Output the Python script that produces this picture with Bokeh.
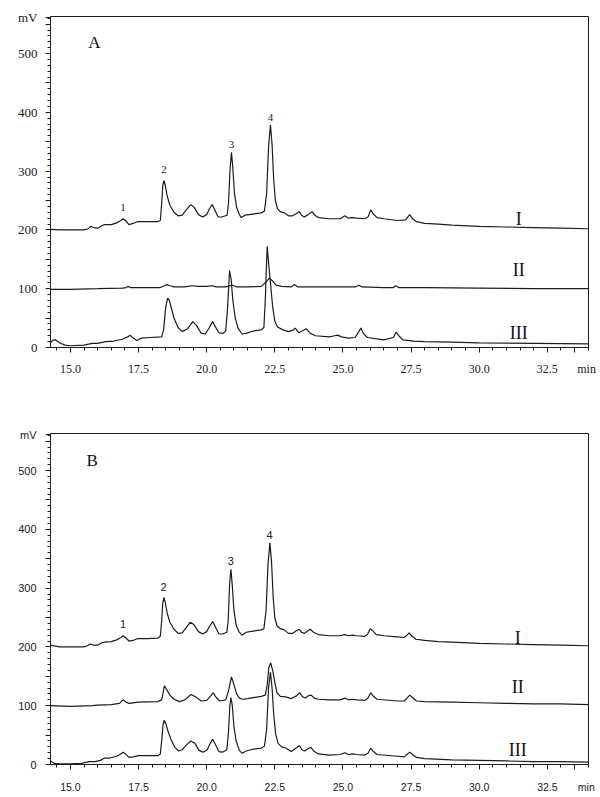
from bokeh.plotting import figure
from bokeh.models import Range1d, FixedTicker, Label
from bokeh.layouts import column
from bokeh.core.properties import value
from bokeh.embed import file_html
from bokeh.resources import INLINE

# ---------------- data (time min, signal mV) ----------------
a_trace1 = [(14.27,201),(14.6,200),(15.0,200),(15.5,200),(15.65,202),(15.75,206),(15.85,204),(16.0,203),
            (16.15,207),(16.25,209),(16.5,209),(16.7,212),(16.85,216),(16.93,219),(17.02,216),(17.15,209),
            (17.3,211),(17.45,214),(17.8,214),(18.2,214),(18.3,216),(18.35,245),(18.39,275),(18.43,284),
            (18.48,276),(18.55,258),(18.65,242),(18.8,230),(18.95,224),(19.1,225),(19.25,234),(19.42,243),
            (19.55,238),(19.7,226),(19.85,222),(20.0,226),(20.1,236),(20.2,243),(20.3,234),(20.42,222),
            (20.55,222),(20.75,225),(20.8,245),(20.86,305),(20.91,332),(20.96,305),(21.02,262),(21.1,238),
            (21.2,226),(21.27,221),(21.4,225),(21.7,227),(22.0,229),(22.12,232),(22.2,262),(22.27,340),
            (22.34,379),(22.4,345),(22.46,285),(22.52,250),(22.6,236),(22.7,231),(22.85,229),(23.0,224),
            (23.15,224),(23.3,228),(23.39,231),(23.48,225),(23.58,222),(23.72,226),(23.87,231),(23.97,225),
            (24.1,221),(24.5,219),(24.9,219),(25.07,224),(25.2,220),(25.35,221),(25.5,220),(25.8,219),
            (25.92,222),(26.02,234),(26.1,228),(26.25,221),(26.5,219),(27.0,216),(27.3,217),(27.45,226),
            (27.55,219),(27.7,214),(28.0,211),(28.5,210),(29.0,208),(30.0,206),(31.0,205),(32.0,204),
            (33.0,203),(34.0,202)]

a_trace2 = [(14.27,99),(15.0,99),(16.0,100),(16.9,101),(17.05,102),(17.12,104),(17.2,102),(17.5,102),
            (18.3,102),(18.45,105),(18.55,107),(18.65,105),(18.8,103),(19.2,103),(19.45,105),(19.7,104),
            (20.0,104),(20.2,105),(20.35,103),(20.7,103),(20.85,105),(20.95,106),(21.1,103),(21.5,103),
            (22.0,104),(22.15,110),(22.3,118),(22.42,113),(22.55,106),(22.75,104),(23.1,103),(23.22,107),
            (23.35,103),(24.0,103),(24.8,103),(25.45,103),(25.58,106),(25.7,103),(26.5,102),(26.85,102),
            (26.93,105),(27.05,102),(28.0,102),(30.0,101),(32.0,100),(34.0,100)]

a_trace3 = [(14.27,8),(14.35,12),(14.45,13),(14.6,8),(14.8,4),(15.0,3),(15.5,4),(15.8,7),(16.0,7),
            (16.3,10),(16.6,11),(16.9,14),(17.1,18),(17.19,21),(17.3,16),(17.45,12),(17.6,16),(17.9,17),
            (18.35,18),(18.42,30),(18.5,70),(18.57,84),(18.63,80),(18.7,68),(18.8,50),(18.95,34),(19.1,27),
            (19.3,32),(19.49,44),(19.62,38),(19.8,24),(19.95,23),(20.1,34),(20.22,44),(20.32,35),(20.45,25),
            (20.6,24),(20.7,28),(20.77,70),(20.84,131),(20.9,115),(20.96,80),(21.05,50),(21.15,33),(21.3,23),
            (21.45,24),(21.7,28),(22.0,30),(22.1,34),(22.15,80),(22.22,172),(22.28,140),(22.34,110),
            (22.42,70),(22.5,45),(22.6,35),(22.8,30),(23.0,27),(23.15,29),(23.25,33),(23.38,25),(23.5,28),
            (23.65,32),(23.8,24),(24.0,20),(24.5,18),(24.7,20),(24.8,21),(24.95,18),(25.2,16),(25.45,17),
            (25.58,27),(25.66,33),(25.75,24),(25.9,17),(26.5,13),(26.85,17),(26.95,26),(27.05,20),(27.2,13),
            (27.6,11),(28.0,10),(29.0,9),(30.0,8),(32.0,7),(34.0,6)]

b_trace1 = [(14.27,203),(14.6,200),(15.0,200),(15.5,200),(15.62,202),(15.72,205),(15.85,203),(16.0,203),
            (16.15,207),(16.25,208),(16.5,209),(16.7,212),(16.85,216),(16.93,219),(17.02,216),(17.15,210),
            (17.3,211),(17.45,214),(17.8,214),(18.2,215),(18.3,218),(18.35,245),(18.39,275),(18.43,284),
            (18.48,276),(18.55,258),(18.65,242),(18.8,230),(18.95,223),(19.1,224),(19.25,233),(19.4,242),
            (19.53,238),(19.7,226),(19.85,222),(20.0,226),(20.12,236),(20.22,243),(20.32,234),(20.45,222),
            (20.58,222),(20.74,225),(20.79,245),(20.84,305),(20.89,332),(20.94,305),(21.0,262),(21.08,238),
            (21.18,226),(21.3,220),(21.45,225),(21.7,227),(22.0,229),(22.1,231),(22.18,262),(22.25,340),
            (22.32,377),(22.38,345),(22.44,285),(22.5,250),(22.58,236),(22.7,231),(22.85,229),(23.0,223),
            (23.15,223),(23.3,228),(23.4,230),(23.48,225),(23.58,223),(23.7,227),(23.8,230),(23.92,225),
            (24.1,221),(24.5,219),(24.9,219),(25.06,221),(25.2,219),(25.35,220),(25.5,219),(25.8,218),
            (25.9,221),(26.0,231),(26.08,228),(26.22,221),(26.5,219),(27.0,217),(27.25,216),(27.35,220),
            (27.43,224),(27.52,219),(27.68,213),(28.0,211),(28.5,209),(29.0,208),(30.0,206),(31.0,205),
            (32.0,204),(33.0,203),(34.0,202)]

b_trace2 = [(14.27,100),(15.0,99),(15.8,100),(16.0,101),(16.5,102),(16.8,104),(16.93,110),(17.05,106),
            (17.15,104),(17.5,106),(18.2,107),(18.35,110),(18.45,134),(18.55,126),(18.65,118),(18.8,111),
            (19.0,107),(19.2,110),(19.42,119),(19.6,115),(19.8,108),(20.0,109),(20.12,115),(20.24,122),
            (20.35,114),(20.48,108),(20.7,110),(20.8,125),(20.91,149),(21.0,136),(21.1,120),(21.2,113),
            (21.32,111),(21.5,112),(22.0,116),(22.15,118),(22.22,135),(22.28,165),(22.35,173),(22.42,160),
            (22.5,140),(22.58,122),(22.7,116),(22.9,115),(23.1,112),(23.3,117),(23.42,122),(23.52,115),
            (23.62,113),(23.73,117),(23.83,118),(23.95,113),(24.1,111),(24.5,110),(24.9,110),(25.07,113),
            (25.2,110),(25.35,111),(25.5,110),(25.8,109),(25.92,113),(26.02,122),(26.12,116),(26.25,111),
            (27.0,108),(27.25,108),(27.35,113),(27.45,118),(27.55,114),(27.7,108),(28.0,107),(29.0,106),
            (30.0,105),(31.0,104),(32.0,103),(33.0,103),(34.0,102)]

b_trace3 = [(14.27,6),(14.4,2),(14.6,1),(15.0,1),(15.4,2),(15.7,5),(15.9,5),(16.1,7),(16.25,11),
            (16.45,11),(16.7,14),(16.85,18),(16.93,21),(17.02,18),(17.15,12),(17.3,13),(17.5,15),(17.8,15),
            (18.2,15),(18.3,18),(18.36,45),(18.4,68),(18.44,75),(18.5,70),(18.58,57),(18.68,44),(18.82,30),
            (18.97,23),(19.1,25),(19.25,33),(19.42,40),(19.57,36),(19.72,24),(19.87,21),(20.02,25),
            (20.12,35),(20.22,43),(20.32,34),(20.45,22),(20.58,21),(20.74,25),(20.8,55),(20.85,100),
            (20.89,114),(20.94,100),(21.0,65),(21.08,40),(21.2,24),(21.3,19),(21.45,23),(21.7,26),(22.0,28),
            (22.12,31),(22.2,60),(22.27,130),(22.34,157),(22.4,130),(22.46,85),(22.53,52),(22.62,36),
            (22.75,30),(22.9,28),(23.1,22),(23.28,28),(23.4,32),(23.5,25),(23.6,23),(23.72,27),(23.82,29),
            (23.95,22),(24.1,18),(24.5,16),(24.9,17),(25.07,20),(25.2,17),(25.35,18),(25.5,17),(25.8,16),
            (25.92,19),(26.02,27.5),(26.12,22),(26.25,17),(27.0,14),(27.25,13),(27.35,17),(27.45,21),
            (27.55,17),(27.7,12),(28.0,10),(29.0,8),(30.0,7),(31.0,6),(32.0,5),(33.0,5),(34.0,4)]

x_tick_values = [15.0, 17.5, 20.0, 22.5, 25.0, 27.5, 30.0, 32.5]
y_tick_values = [0, 100, 200, 300, 400, 500]

peak_names = ["1", "2", "3", "4"]
a_peak_t = [16.93, 18.43, 20.91, 22.34]
a_peak_y = [238, 303, 346, 391]
b_peak_t = [16.93, 18.42, 20.89, 22.31]
b_peak_y = [239, 302, 346, 390]

trace_names = ["I", "II", "III"]
a_name_y = [218, 131, 25]
b_name_y = [216, 132, 24]

X0, X1 = 14.27, 34.01
Y0, Y1 = 0, 563
INK = "#1c1c1c"
MV_TICK = 561
MIN_TICK = 33.5


def make_panel(traces, letter, peak_t, peak_y, name_y, name_x, tick_font, tick_size_y, tick_size_x,
               peak_font, width, height, bl, br, bt, bb, y_standoff, x_standoff, letter_pos):
    p = figure(width=width, height=height, output_backend="svg", toolbar_location=None,
               x_range=Range1d(X0, X1), y_range=Range1d(Y0, Y1),
               min_border_left=bl, min_border_right=br, min_border_top=bt, min_border_bottom=bb)
    p.xgrid.visible = False
    p.ygrid.visible = False
    p.outline_line_color = INK
    p.outline_line_width = 1
    p.background_fill_color = "white"
    p.border_fill_color = "white"

    for tr in traces:
        xs = [a for a, b in tr]
        ys = [b for a, b in tr]
        p.line(xs, ys, line_color=INK, line_width=1.2)

    # y axis: labelled every 100, plain ticks every 50, minor every 10, "mV" unit at the top
    yt = [v for v in range(0, 551, 50)] + [MV_TICK]
    overrides = {v: (str(v) if v in y_tick_values else "") for v in range(0, 551, 50)}
    overrides[MV_TICK] = "mV"
    p.yaxis.ticker = FixedTicker(ticks=yt, minor_ticks=[v for v in range(0, 561, 10)])
    p.yaxis.major_label_overrides = overrides

    # x axis: labelled every 2.5 min, minor every 0.5 min, "min" unit at the right
    xt = x_tick_values + [MIN_TICK]
    p.xaxis.ticker = FixedTicker(ticks=xt, minor_ticks=[14.5 + 0.5 * i for i in range(40)])
    xo = {v: "%.1f" % v for v in x_tick_values}
    xo[MIN_TICK] = "\u00a0" * 8 + "min"
    p.xaxis.major_label_overrides = xo

    for ax in (p.xaxis[0], p.yaxis[0]):
        ax.axis_line_color = INK
        ax.major_tick_line_color = INK
        ax.minor_tick_line_color = INK
        ax.major_tick_in = 0
        ax.minor_tick_in = 0
        ax.major_tick_out = 5
        ax.minor_tick_out = 3
        ax.major_label_text_font = tick_font
        ax.major_label_text_color = "#1a1a1a"
    p.yaxis.major_label_text_font_size = tick_size_y
    p.xaxis.major_label_text_font_size = tick_size_x
    p.yaxis.major_label_standoff = y_standoff
    p.xaxis.major_label_standoff = x_standoff

    # peak numbers
    p.text(x=peak_t, y=peak_y, text=peak_names, text_align="center", text_baseline="middle",
           text_font=value(peak_font), text_font_size="11px", text_color="#222222")
    # trace names
    p.text(x=[name_x] * 3, y=name_y, text=trace_names, text_align="center", text_baseline="middle",
           text_font=value("Liberation Serif"), text_font_size="18px", text_color="#111111")

    p.add_layout(Label(x=letter_pos[0], y=letter_pos[1], text=letter, text_align="center",
                       text_baseline="middle", text_font="Liberation Serif", text_font_size="17px",
                       text_color="#111111"))
    return p


pA = make_panel([a_trace1, a_trace2, a_trace3], "A", a_peak_t, a_peak_y, a_name_y, 31.45,
                "Liberation Serif", "13px", "12px", "Liberation Serif",
                width=596, height=385, bl=50, br=4, bt=16, bb=38, y_standoff=8, x_standoff=9,
                letter_pos=(15.88, 519))

pB = make_panel([b_trace1, b_trace2, b_trace3], "B", b_peak_t, b_peak_y, b_name_y, 31.41,
                "Liberation Sans", "11px", "10.5px", "Liberation Sans",
                width=596, height=411, bl=47, br=8, bt=48, bb=32, y_standoff=9, x_standoff=11,
                letter_pos=(15.8, 517))

layout = column(pA, pB)
open("out.html", "w").write(file_html(layout, INLINE))
